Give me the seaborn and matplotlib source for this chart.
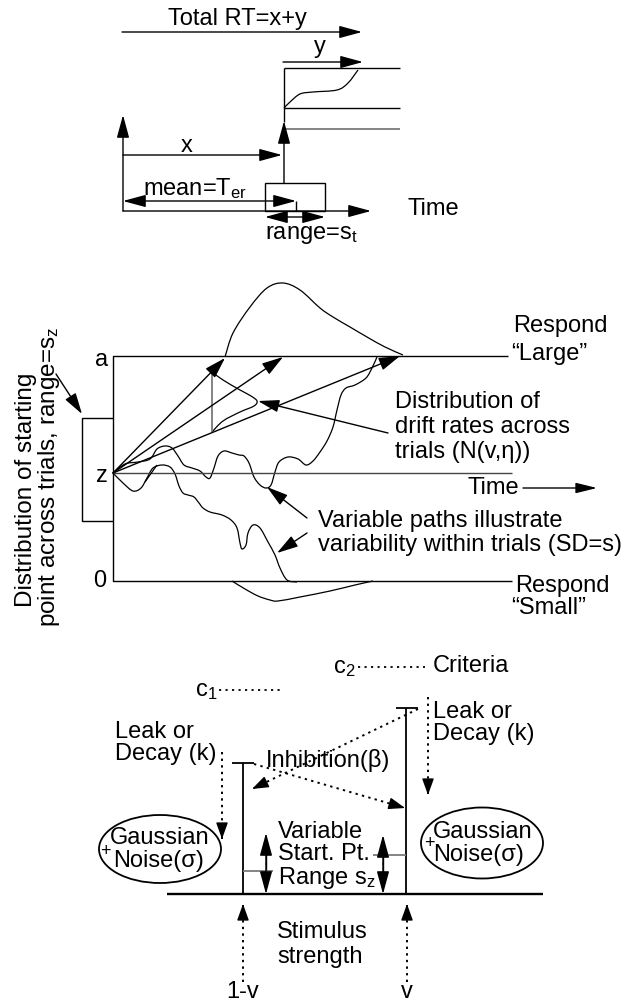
import numpy as np
import matplotlib
matplotlib.use("Agg")
import matplotlib.pyplot as plt
import seaborn as sns
from matplotlib.path import Path
from matplotlib.patches import PathPatch, Ellipse, Rectangle

sns.set_theme(style="white")
plt.rcParams['font.family'] = ['Liberation Sans', 'DejaVu Sans']
plt.rcParams['mathtext.fontset'] = 'custom'
plt.rcParams['mathtext.rm'] = 'Liberation Sans'
plt.rcParams['mathtext.it'] = 'Liberation Sans'
plt.rcParams['mathtext.bf'] = 'Liberation Sans'

FS = 17

# ---------------- data (diagram geometry, pixel units) -------------
# top panel: S-shaped accumulation curve
s_curve = [(284, 108), (290, 102), (300, 94), (313, 92), (337, 90), (348, 83), (358, 70)]
# middle panel: RT distributions at the two boundaries
upper_rt = [(225, 357), (233, 333), (250, 307), (267, 288), (283, 283), (300, 290),
            (320, 308), (333, 317), (350, 327), (367, 337), (385, 347), (403, 355)]
lower_rt = [(232, 581), (245, 589), (258, 596), (270, 600), (278, 601), (300, 597),
            (330, 591), (355, 585), (373, 581)]
drift_dist = [(212, 372), (223, 380), (240, 390), (251, 396), (257, 401), (254, 406),
              (240, 412), (223, 421), (212, 432)]
path_upper = [(113, 473), (125, 464), (138, 462), (150, 459), (157, 449), (165, 446),
              (172, 448), (178, 456), (184, 465), (192, 468), (200, 471), (206, 477),
              (210, 478), (214, 468), (218, 456), (224, 451), (232, 453), (239, 455),
              (244, 456), (249, 463), (254, 477), (260, 485), (266, 488), (271, 485),
              (275, 472), (279, 462), (288, 457), (298, 459), (306, 465), (313, 461),
              (320, 452), (327, 441), (333, 427), (337, 410), (341, 395), (346, 388),
              (355, 385), (366, 378), (372, 368), (377, 357)]
path_lower = [(113, 473), (123, 483), (133, 491), (141, 488), (147, 478), (153, 468),
              (162, 465), (170, 467), (175, 474), (179, 486), (183, 493), (188, 495),
              (194, 497), (199, 503), (203, 508), (210, 512), (222, 515), (231, 520),
              (237, 528), (240, 543), (242, 549), (246, 545), (248, 533), (253, 525),
              (260, 528), (268, 542), (275, 555), (280, 568), (287, 580), (297, 582)]
drift_tips = [(225, 358), (283, 357), (400, 356)]
z_point = (113, 473)

# text labels: (x, baseline y, text, ha)
top_labels = [(168, 25, "Total RT=x+y", "left"), (320, 53, "y", "center"),
              (187, 152, "x", "center"), (143, 195, r"mean=T$_{\rm er}$", "left"),
              (407, 215, "Time", "left"), (265, 239, r"range=s$_{\rm t}$", "left")]
mid_labels = [(102, 366, "a", "center"), (102, 482, "z", "center"), (100, 587, "0", "center"),
              (513, 332, "Respond", "left"), (511, 360, "\u201cLarge\u201d", "left"),
              (395, 408, "Distribution of", "left"), (395, 433, "drift rates across", "left"),
              (395, 458, "trials (N(v,\u03b7))", "left"), (467, 494, "Time", "left"),
              (318, 527, "Variable paths illustrate", "left"),
              (318, 551, "variability within trials (SD=s)", "left"),
              (515, 592, "Respond", "left"), (511, 614, "\u201cSmall\u201d", "left")]
side_labels = [(32, 607, "Distribution of starting"),
               (55, 627, r"point across trials, range=s$_{\rm z}$")]
bot_labels = [(333, 673, r"c$_{\rm 2}$", "left"), (433, 672, "Criteria", "left"),
              (195, 696, r"c$_{\rm 1}$", "left"), (115, 738, "Leak or", "left"),
              (115, 760, "Decay (k)", "left"), (433, 718, "Leak or", "left"),
              (433, 740, "Decay (k)", "left"), (266, 767, "Inhibition(\u03b2)", "left"),
              (110, 844, "Gaussian", "left"), (113, 867, "Noise(\u03c3)", "left"),
              (433, 838, "Gaussian", "left"), (433, 861, "Noise(\u03c3)", "left"),
              (278, 838, "Variable", "left"), (278, 860, "Start. Pt.", "left"),
              (278, 884, r"Range s$_{\rm z}$", "left"), (277, 938, "Stimulus", "left"),
              (277, 963, "strength", "left"), (243, 998, "1-v", "center"),
              (407, 998, "v", "center")]

# ---------------- drawing -------------
fig = plt.figure(figsize=(6.30, 10.01), dpi=100)
ax = fig.add_axes([0, 0, 1, 1])
ax.set_xlim(0, 630)
ax.set_ylim(1001, 0)
ax.axis("off")

LW = 1.0
K = "black"
G = "#7a7a7a"


def line(pts, color=K, lw=LW, ls="-"):
    p = np.asarray(pts, float)
    ax.plot(p[:, 0], p[:, 1], color=color, lw=lw, ls=ls, solid_capstyle="butt")


def smooth(pts, color=K, lw=0.9):
    P = np.asarray(pts, float)
    verts = [P[0]]
    codes = [Path.MOVETO]
    n = len(P)
    for i in range(n - 1):
        p0 = P[i - 1] if i > 0 else P[i]
        p1, p2 = P[i], P[i + 1]
        p3 = P[i + 2] if i + 2 < n else P[i + 1]
        verts += [p1 + (p2 - p0) / 6.0, p2 - (p3 - p1) / 6.0, p2]
        codes += [Path.CURVE4] * 3
    ax.add_patch(PathPatch(Path(verts, codes), fill=False, edgecolor=color, lw=lw))


def arrow(x0, y0, x1, y1, style="-|>", hl=1.1, hw=0.36, lw=LW, color=K):
    ax.annotate("", xy=(x1, y1), xytext=(x0, y0),
                arrowprops=dict(arrowstyle=f"{style},head_length={hl},head_width={hw}",
                                lw=lw, color=color, shrinkA=0, shrinkB=0,
                                mutation_scale=10))


def dotted_arrow(x0, y0, x1, y1, hl=1.0, hw=0.36):
    line([(x0, y0), (x1, y1)], ls=(0, (1.2, 2.2)), lw=1.4)
    d = np.array([x1 - x0, y1 - y0], float)
    d /= np.hypot(*d)
    arrow(x1 - d[0] * 3, y1 - d[1] * 3, x1, y1, hl=hl, hw=hw)


def label(x, y, s, ha="left", fs=FS, **kw):
    ax.text(x, y, s, ha=ha, va="baseline", fontsize=fs, color=K, **kw)


# ===== top panel =====
arrow(122, 32, 362, 32, hl=1.4, hw=0.38)
arrow(283, 62, 363, 62, hl=1.4, hw=0.38)
line([(284, 68), (400, 68)])
line([(284, 108), (400, 108)])
line([(284, 129), (400, 129)], color=G, lw=1.3)
line([(284, 68), (284, 122)])
arrow(284, 183, 284, 121, hl=1.4, hw=0.38)
smooth(s_curve)
arrow(123, 211, 123, 115, hl=1.4, hw=0.38)
arrow(123, 155, 282, 155, hl=1.4, hw=0.38)
arrow(123, 201, 296, 201, style="<|-|>", hl=1.4, hw=0.38)
line([(296, 201), (296, 211)])
ax.add_patch(Rectangle((265, 183), 60, 28, fill=False, edgecolor=K, lw=LW))
arrow(123, 211, 371, 211, hl=1.4, hw=0.38)
arrow(265, 217, 325, 217, style="<|-|>", hl=1.4, hw=0.38)
for x, y, s, ha in top_labels:
    label(x, y, s, ha)

# ===== middle panel =====
line([(508, 356), (113, 356), (113, 581), (512, 581)])
line([(113, 473), (512, 473)], color="#444444")
line([(113, 418), (82, 418), (82, 521), (113, 521)])
arrow(56, 374, 82, 414, hl=1.3, hw=0.38)
for tx, ty in drift_tips:
    arrow(z_point[0], z_point[1], tx, ty, hl=1.3, hw=0.4)
line([(212, 372), (212, 432)], color=G, lw=1.3)
smooth(drift_dist)
arrow(388, 433, 258, 401, hl=1.3, hw=0.38)
smooth(upper_rt)
smooth(lower_rt)
smooth(path_upper)
smooth(path_lower)
line([(145, 482), (157, 465)], lw=0.9)
arrow(307, 518, 267, 487, hl=1.3, hw=0.38)
arrow(307, 533, 277, 553, hl=1.3, hw=0.38)
arrow(523, 488, 597, 488, hl=1.3, hw=0.32)
for x, y, s, ha in mid_labels:
    label(x, y, s, ha)
for x, y, s in side_labels:
    ax.text(x, y, s, rotation=90, rotation_mode="anchor", ha="left", va="baseline",
            fontsize=FS + 0.5, color=K)

# ===== bottom panel =====
line([(358, 667), (425, 667)], ls=(0, (1.2, 2.4)), lw=1.3)
line([(219, 690), (284, 690)], ls=(0, (1.2, 2.4)), lw=1.3)
line([(243, 763), (243, 894)], lw=1.3)
line([(232, 763), (254, 763)], lw=1.3)
line([(406, 708), (406, 894)], lw=1.3)
line([(396, 708), (418, 708)], lw=1.3)
line([(167, 894), (543, 894)], lw=1.7)
dotted_arrow(222, 752, 222, 839)
dotted_arrow(428, 697, 428, 795)
dotted_arrow(254, 764, 405, 808)
dotted_arrow(418, 709, 252, 789)
ax.add_patch(Ellipse((160, 849), 122, 68, fill=False, edgecolor=K, lw=1.3))
ax.add_patch(Ellipse((482, 843), 122, 71, fill=False, edgecolor=K, lw=1.3))
label(105, 856, "+", "center", fs=13)
label(429, 848, "+", "center", fs=13)
arrow(266, 864, 266, 833, hl=1.4, hw=0.38)
arrow(266, 864, 266, 894, hl=1.4, hw=0.38)
line([(266, 840), (266, 884)])
arrow(383, 864, 383, 835, hl=1.4, hw=0.38)
arrow(383, 864, 383, 894, hl=1.4, hw=0.38)
line([(383, 842), (383, 884)])
line([(243, 871), (273, 871)], color=G, lw=1.3)
line([(373, 855), (406, 855)], color=G, lw=1.3)
dotted_arrow(243, 982, 243, 904)
dotted_arrow(407, 982, 407, 904)
for x, y, s, ha in bot_labels:
    label(x, y, s, ha)

fig.savefig("out.png", dpi=100, facecolor="white")
